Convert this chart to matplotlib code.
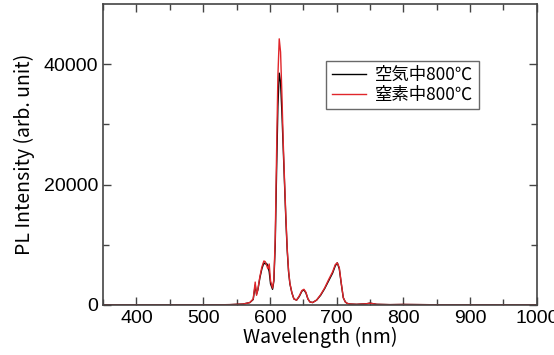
import matplotlib
matplotlib.use('Agg')
import matplotlib.pyplot as plt
import numpy as np

# wavelength grid (nm)
wl = [350, 400, 450, 500, 540, 560, 570, 575, 578, 580, 582, 585, 588, 591, 593,
      595, 597, 599, 601, 604, 606, 608, 610, 612, 614, 616, 618, 620, 622, 624,
      626, 628, 630, 633, 636, 640, 644, 648, 651, 654, 657, 660, 664, 670,
      676, 682, 688, 694, 698, 701, 704, 707, 710, 713, 716, 720, 730, 745, 750,
      760, 780, 800, 850, 900, 950, 1000]

# annealed in air at 800 C
pl_air = [0, 0, 0, 0, 50, 150, 400, 900, 3300, 1800, 2500, 4500, 6000, 7000, 6800,
          6900, 6500, 5500, 3500, 2600, 4000, 10000, 22000, 33000, 38500, 37000, 32000, 26000, 20000, 14000,
          9000, 5500, 3500, 2000, 1000, 800, 1400, 2300, 2500, 2000, 1000, 500, 400, 800,
          1600, 2700, 4000, 5300, 6500, 7000, 6000, 3500, 1200, 500, 250, 150, 100, 200, 300,
          100, 50, 80, 30, 20, 10, 0]

# annealed in nitrogen at 800 C
pl_n2 = [0, 0, 0, 0, 50, 150, 400, 1000, 3800, 1600, 2600, 4700, 6300, 7300, 7200,
         6600, 6000, 6800, 4000, 2800, 4300, 11000, 25000, 38000, 44200, 42000, 35000, 27000, 20500, 14500,
         9300, 5700, 3600, 2000, 1000, 800, 1500, 2400, 2600, 2100, 1000, 500, 400, 800,
         1700, 2800, 4200, 5500, 6700, 7000, 6200, 3600, 1200, 500, 250, 150, 100, 200, 300,
         100, 50, 80, 30, 20, 10, 0]

plt.rcParams['font.family'] = ['Liberation Sans', 'Noto Sans CJK JP']

fig = plt.figure(figsize=(5.54, 3.55), dpi=100)
ax = fig.add_axes([0.186, 0.141, 0.783, 0.848])

ax.plot(wl, pl_air, color='black', lw=1.0, label='空気中800℃')
ax.plot(wl, pl_n2, color='#e0262b', lw=1.0, label='窒素中800℃')

ax.set_xlim(350, 1000)
ax.set_ylim(0, 50000)
ax.set_xticks(np.arange(400, 1001, 100))
ax.set_xticks(np.arange(350, 1001, 50), minor=True)
ax.set_yticks([0, 20000, 40000])
ax.set_yticks([10000, 30000], minor=True)
ax.tick_params(which='both', direction='in', top=True, right=True, color='#444444', labelsize=14)
ax.tick_params(which='major', length=6, width=1)
ax.tick_params(which='minor', length=4, width=1)
for s in ax.spines.values():
    s.set_color('#444444')
    s.set_linewidth(1.2)

ax.set_xlabel('Wavelength (nm)', fontsize=14, family=['Noto Sans CJK JP'], labelpad=0)
ax.set_ylabel('PL Intensity (arb. unit)', fontsize=14, family=['Noto Sans CJK JP'], labelpad=6)

leg = ax.legend(loc='upper left', bbox_to_anchor=(0.495, 0.84),
                prop={'family': ['Noto Sans CJK JP'], 'size': 12.5},
                frameon=True, fancybox=False, edgecolor='#444444',
                handlelength=2.0, handletextpad=0.5, borderpad=0.3, labelspacing=0.1)
leg.get_frame().set_linewidth(1.0)

fig.savefig('out.png', dpi=100)
